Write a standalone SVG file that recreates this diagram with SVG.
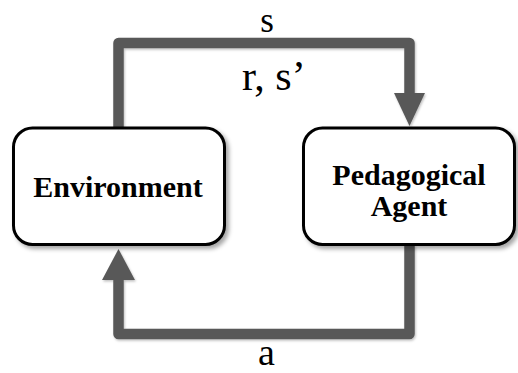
<svg xmlns="http://www.w3.org/2000/svg" width="518" height="373" viewBox="0 0 518 373">
  <defs>
    <filter id="shadow" x="-10%" y="-10%" width="125%" height="130%">
      <feDropShadow dx="3" dy="3" stdDeviation="2" flood-color="#000" flood-opacity="0.35"/>
    </filter>
    <filter id="lshadow" x="-10%" y="-10%" width="125%" height="130%">
      <feDropShadow dx="1" dy="1.5" stdDeviation="1" flood-color="#000" flood-opacity="0.25"/>
    </filter>
  </defs>
  <style>
    .box { fill: #ffffff; stroke: #000000; stroke-width: 3; filter: url(#shadow); }
    .node { font-family: "Liberation Serif", "Times New Roman", serif; font-weight: bold; font-size: 30px; fill: #000; text-anchor: middle; }
    .edge { fill: none; stroke: #595959; stroke-width: 10.5; stroke-linejoin: round; }
    .head { fill: #595959; stroke: none; }
    .lbl { font-family: "Liberation Serif", "Times New Roman", serif; font-size: 42px; fill: #000; }
  </style>
  <rect width="518" height="373" fill="#ffffff"/>
  <g id="connectors" filter="url(#lshadow)">
    <path class="edge" d="M118.5,128 V43 H409.5 V94"/>
    <polygon class="head" points="394,93 425,93 409.5,126"/>
    <path class="edge" d="M409.5,245 V334 H118.5 V278"/>
    <polygon class="head" points="102,280 135,280 118.5,249"/>
  </g>
  <g id="labels">
    <text class="lbl" x="267" y="31.5" text-anchor="middle" style="font-size:35px">s</text>
    <text class="lbl" x="242" y="90">r, s’</text>
    <text class="lbl" x="266.5" y="364.5" text-anchor="middle" style="font-size:38px">a</text>
  </g>
  <g id="environment">
    <rect class="box" x="13.5" y="128" width="211" height="116.5" rx="19" ry="19"/>
    <text class="node" x="118" y="197">Environment</text>
  </g>
  <g id="agent">
    <rect class="box" x="303.5" y="128" width="211" height="116.5" rx="19" ry="19"/>
    <text class="node" x="409" y="185">Pedagogical</text>
    <text class="node" x="409" y="216">Agent</text>
  </g>
</svg>
